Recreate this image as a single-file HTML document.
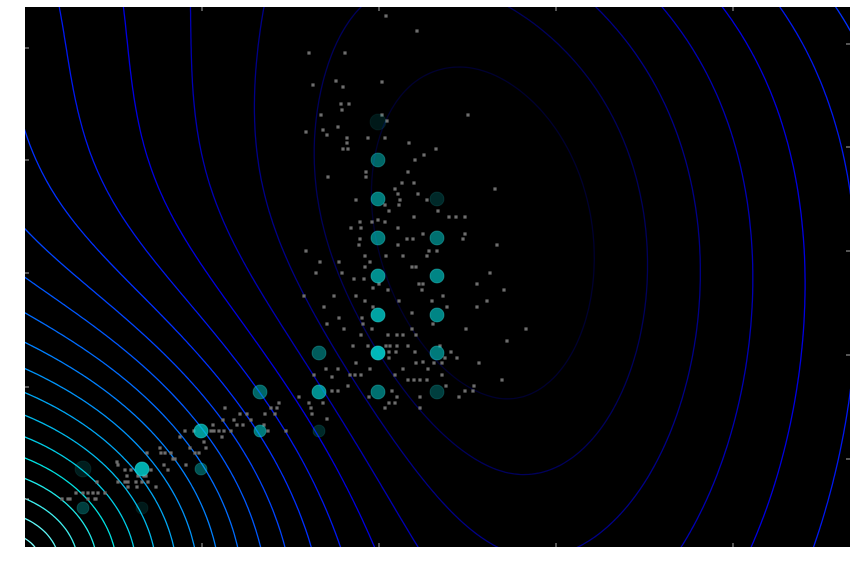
<!DOCTYPE html>
<html><head><meta charset="utf-8">
<style>
html,body{margin:0;padding:0;background:#fff;}
svg{display:block;font-family:"Liberation Sans",sans-serif;}
</style></head>
<body>
<svg id="chart" width="856" height="568" viewBox="0 0 856 568" xmlns="http://www.w3.org/2000/svg">
<defs><clipPath id="clip"><rect x="25" y="7" width="825" height="540"/></clipPath></defs>
<rect x="25" y="7" width="825" height="540" fill="#000"/>
<g id="contours" clip-path="url(#clip)"></g>
<g id="points" clip-path="url(#clip)"></g>
<g id="circles" clip-path="url(#clip)"></g>
<g id="ticks"></g>
</svg>
<script>
// Data space coincides with plot coordinates (x: 25..850, y: 7..547 downward)
const xDomain = [25, 850];
const yDomain = [7, 547];
const xTopTicks = [202, 379, 556, 733];
const xBottomTicks = [202, 379, 556, 733];
const yLeftTicks = [48, 160, 273, 387, 499];
const yRightTicks = [44, 147, 251, 355, 459];

// contour field parameters
const bowlTopX = [438];
const bowlDriftAmount = [52];
const bowlDriftLen = [120];
const bowlCenterY = [250];
const bowlYScale = [1.45];
const bowlRightScale = [1.12];
const cornerCenter = [15, 560];
const cornerXScale = [0.8];
const cornerSlope = [2.8];
const cornerRadius = [280];
const cornerSoft = [70];
const levelStart = [128];
const levelStep = [58];
const levelCount = [24];

// grid circles: x, y, opacity, radius
const circX = [378,378,378,437,378,437,378,437,378,437,319,378,437,260,319,378,437,201,260,319,83,142,201,83,142];
const circY = [122,160,199,199,238,238,276,276,315,315,353,353,353,392,392,392,392,431,431,431,469,469,469,508,508];
const circA = [0.12,0.5,0.6,0.2,0.6,0.55,0.7,0.65,0.8,0.65,0.45,0.9,0.6,0.5,0.7,0.55,0.3,0.75,0.6,0.2,0.15,0.85,0.4,0.3,0.12];
const circR = [8,7,7,7,7,7,7,7,7,7,7,7,7,7,7,7,7,7,6,6,8,7,6,6,6];

const ptX = [386,417,309,345,313,336,343,382,341,349,342,321,382,387,468,306,323,327,338,347,347,343,348,368,385,409,436,424,415,328,366,366,408,402,414,395,398,418,495,356,400,427,385,399,389,438,414,449,456,465,
360,372,378,385,351,361,398,423,465,360,407,413,463,359,398,497,306,429,437,365,386,403,427,320,339,370,365,412,416,316,342,490,354,364,379,419,423,477,373,388,422,504,304,334,356,443,365,399,432,487,324,373,447,477,412,339,362,327,363,433,344,372,412,466,526,361,388,397,403,416,507,353,368,386,390,397,408,440,389,396,415,451,389,445,457,356,416,423,434,442,479,326,338,370,403,428,314,332,350,355,361,395,442,408,414,420,427,502,348,446,474,332,338,392,465,473,299,369,397,420,459,309,323,389,395,311,385,420,312,327,
279,271,277,225,275,265,240,247,223,234,251,213,237,243,264,185,211,214,219,224,231,268,286,194,180,222,204,190,206,160,147,161,165,171,195,199,173,175,164,186,117,118,125,131,151,168,127,138,144,146,97,118,125,128,136,142,148,128,137,156,76,83,88,93,98,105,62,68,70,88,95,96];
const ptY = [16,31,53,53,85,81,87,82,104,104,110,115,115,121,115,132,130,135,127,138,143,149,149,138,138,143,149,155,160,177,172,177,172,183,183,189,194,194,189,200,200,200,205,205,211,211,217,217,217,217,
222,222,220,222,228,228,228,234,234,239,239,239,239,245,245,245,251,251,251,256,256,256,256,262,262,262,267,267,267,273,273,273,279,279,284,284,284,284,288,290,290,290,296,296,296,296,301,301,301,301,307,307,307,307,313,318,318,324,324,324,329,329,329,329,329,335,335,335,335,335,341,346,346,346,346,346,346,346,352,352,352,352,358,358,358,363,363,362,363,363,363,369,369,369,369,369,375,377,375,375,375,375,375,380,380,380,380,380,386,386,386,391,391,391,391,391,397,397,397,397,397,403,403,403,403,408,408,408,414,419,
403,408,408,408,414,414,414,414,420,420,420,425,425,425,425,431,431,431,431,431,431,431,431,431,437,437,442,448,448,448,453,453,453,453,453,453,459,459,465,465,462,465,470,470,470,470,476,476,476,476,482,482,482,482,482,482,482,487,487,487,493,493,493,493,493,493,499,499,499,499,499,499];

const P = {l:25, r:850, t:7, b:547};
function xScale(v){ return P.l + (v - xDomain[0]) / (xDomain[1]-xDomain[0]) * (P.r - P.l); }
function yScale(v){ return P.t + (v - yDomain[0]) / (yDomain[1]-yDomain[0]) * (P.b - P.t); }
const NS = 'http://www.w3.org/2000/svg';
function mk(tag, attrs){ const e=document.createElementNS(NS,tag); for(const k in attrs) e.setAttribute(k,attrs[k]); return e; }

function field(x,y){
  const cxb=bowlTopX[0]+bowlDriftAmount[0]*(1-Math.exp(-Math.max(0,y-7)/bowlDriftLen[0]));
  let dx=x-cxb; if(dx>0) dx*=bowlRightScale[0];
  const dy=(y-bowlCenterY[0])/bowlYScale[0];
  const bowl=Math.sqrt(dx*dx+dy*dy);
  const cx=(x-cornerCenter[0])*cornerXScale[0], cy=y-cornerCenter[1];
  const d=Math.sqrt(cx*cx+cy*cy);
  const s=cornerSoft[0];
  const cone=cornerSlope[0]*s*Math.log(1+Math.exp((cornerRadius[0]-d)/s));
  return bowl + cone;
}
const stops=[[0,[0,0,48]],[4,[0,0,224]],[6,[0,48,255]],[10,[0,128,255]],[15,[0,224,224]],[19,[128,255,255]],[21,[255,255,255]]];
function colorAt(k){
  for(let i=0;i<stops.length-1;i++){
    const a=stops[i], b=stops[i+1];
    if(k<=b[0]){ const t=(k-a[0])/(b[0]-a[0]); const c=a[1].map((v,j)=>Math.round(v+(b[1][j]-v)*t)); return 'rgb('+c.join(',')+')'; }
  }
  return 'rgb(255,255,255)';
}

// marching squares
const step=3;
const gx=[], gy=[];
for(let x=P.l-3;x<=P.r+3;x+=step) gx.push(x);
for(let y=P.t-3;y<=P.b+3;y+=step) gy.push(y);
const F=gy.map(y=>gx.map(x=>field(x,y)));
const cg=document.getElementById('contours');
for(let k=0;k<levelCount[0];k++){
  const L=levelStart[0]+k*levelStep[0];
  let d='';
  for(let j=0;j<gy.length-1;j++){
    for(let i=0;i<gx.length-1;i++){
      const v0=F[j][i], v1=F[j][i+1], v2=F[j+1][i+1], v3=F[j+1][i];
      const x0=gx[i], x1=gx[i+1], y0=gy[j], y1=gy[j+1];
      const pts=[];
      const e=(va,vb,xa,ya,xb,yb)=>{ if((va<L)!==(vb<L)){ const t=(L-va)/(vb-va); pts.push([xa+(xb-xa)*t, ya+(yb-ya)*t]); } };
      e(v0,v1,x0,y0,x1,y0); e(v1,v2,x1,y0,x1,y1); e(v2,v3,x1,y1,x0,y1); e(v3,v0,x0,y1,x0,y0);
      for(let p=0;p+1<pts.length;p+=2){
        d+='M'+pts[p][0].toFixed(1)+' '+pts[p][1].toFixed(1)+'L'+pts[p+1][0].toFixed(1)+' '+pts[p+1][1].toFixed(1);
      }
    }
  }
  if(d){
    const path=mk('path',{d:d,fill:'none',stroke:colorAt(k),'stroke-width':1.3,'stroke-linecap':'round'});
    
    
    cg.appendChild(path);
  }
}

const pg=document.getElementById('points');
for(let i=0;i<ptX.length;i++){
  const r=mk('rect',{x:(xScale(ptX[i])-1.6).toFixed(1),y:(yScale(ptY[i])-1.6).toFixed(1),width:3.2,height:3.2,fill:'#6e6e6e'});
  
  
  pg.appendChild(r);
}
const cgc=document.getElementById('circles');
for(let i=0;i<circX.length;i++){
  const c=mk('circle',{cx:xScale(circX[i]),cy:yScale(circY[i]),r:circR[i],fill:'#00cccc','fill-opacity':circA[i],stroke:'#33dddd','stroke-opacity':circA[i]*0.6,'stroke-width':1});
  
  
  cgc.appendChild(c);
}
const tg=document.getElementById('ticks');
function tick(x1,y1,x2,y2){
  const t=mk('line',{x1:x1,y1:y1,x2:x2,y2:y2,stroke:'#aaaaaa','stroke-width':1});
  
  
  tg.appendChild(t);
}
xTopTicks.forEach(v=>tick(xScale(v),P.t,xScale(v),P.t+4));
xBottomTicks.forEach(v=>tick(xScale(v),P.b,xScale(v),P.b-4));
yLeftTicks.forEach(v=>tick(P.l,yScale(v),P.l+4,yScale(v)));
yRightTicks.forEach(v=>tick(P.r,yScale(v),P.r-4,yScale(v)));
</script>
</body></html>
